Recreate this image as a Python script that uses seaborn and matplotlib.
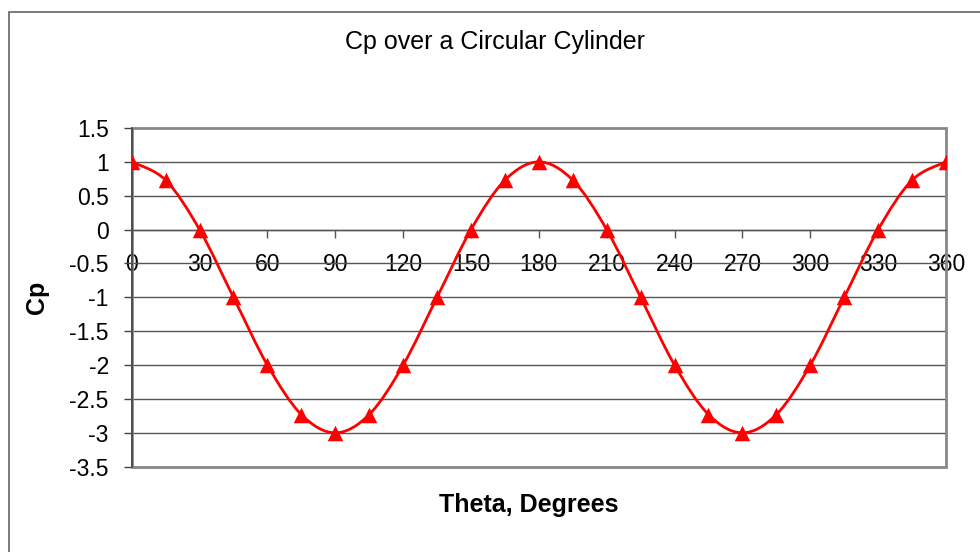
import matplotlib
matplotlib.use("Agg")
import matplotlib.pyplot as plt
import seaborn as sns
import numpy as np
import pandas as pd
from matplotlib.path import Path
from matplotlib.patches import PathPatch, Rectangle

theta = [0, 15, 30, 45, 60, 75, 90, 105, 120, 135, 150, 165, 180,
         195, 210, 225, 240, 255, 270, 285, 300, 315, 330, 345, 360]
cp = [1, 0.73, 0, -1, -2, -2.73, -3, -2.73, -2, -1, 0, 0.73, 1,
      0.73, 0, -1, -2, -2.73, -3, -2.73, -2, -1, 0, 0.73, 1]
xticks = list(range(0, 361, 30))
yticks = [1.5, 1, 0.5, 0, -0.5, -1, -1.5, -2, -2.5, -3, -3.5]
title = "Cp over a Circular Cylinder"
xlabel = "Theta, Degrees"
ylabel = "Cp"

sns.set_theme(style="white")
plt.rcParams['font.family'] = ['Liberation Sans', 'DejaVu Sans']

df = pd.DataFrame({"theta": theta, "cp": cp})

fig = plt.figure(figsize=(9.8, 5.52), dpi=100, facecolor="white")
W, H = 980, 552
ax = fig.add_axes([131.7 / W, 1 - 466.7 / H, (946 - 131.7) / W, (466.7 - 128) / H])
ax.set_facecolor("white")

# smoothed line (Catmull-Rom rendered as cubic Bezier through the data points)
P = np.column_stack([df["theta"].to_numpy(float), df["cp"].to_numpy(float)])
n = len(P)
verts = [tuple(P[0])]
codes = [Path.MOVETO]
for i in range(n - 1):
    p0 = P[i - 1] if i > 0 else P[i]
    p1 = P[i]
    p2 = P[i + 1]
    p3 = P[i + 2] if i + 2 < n else P[i + 1]
    c1 = p1 + (p2 - p0) / 6.0
    c2 = p2 - (p3 - p1) / 6.0
    verts += [tuple(c1), tuple(c2), tuple(p2)]
    codes += [Path.CURVE4] * 3
ax.add_patch(PathPatch(Path(verts, codes), facecolor="none", edgecolor="#ff0000",
                       lw=2.0, zorder=3))

sns.scatterplot(data=df, x="theta", y="cp", marker="^", s=125, color="#ff0000",
                edgecolor="#ff0000", linewidth=0, ax=ax, zorder=4, legend=False)

ax.set_xlim(0, 360)
ax.set_ylim(-3.5, 1.5)
ax.set_yticks(yticks)
ax.set_yticklabels([f"{v:g}" for v in yticks])
ax.set_xticks(xticks)
ax.set_xticklabels([str(v) for v in xticks])

for yv in yticks:
    ax.axhline(yv, color="#555555", lw=1.0, zorder=1)

for s in ["top", "right"]:
    ax.spines[s].set_visible(False)
ax.spines["left"].set_color("#444444")
ax.spines["left"].set_linewidth(1.2)
ax.spines["bottom"].set_position(("data", 0))
ax.spines["bottom"].set_color("#555555")
ax.spines["bottom"].set_linewidth(1.0)

ax.add_patch(Rectangle((0, 0), 1, 1, transform=ax.transAxes, fill=False,
                       edgecolor="#888888", lw=2.0, zorder=2, clip_on=False))

ax.tick_params(axis="y", direction="out", length=5.5, width=1, color="#444444",
               pad=11, labelsize=16.5, left=True)
ax.tick_params(axis="x", direction="out", length=5.5, width=1, color="#555555",
               pad=11, labelsize=16.5, bottom=True)
for lab in ax.get_xticklabels() + ax.get_yticklabels():
    lab.set_color("black")

ax.set_xlabel("")
ax.set_ylabel(ylabel, fontsize=18, fontweight="bold", color="black")
ax.yaxis.set_label_coords(-0.1016, 0.5)

fig.text(495 / W, 1 - 48.5 / H, title, fontsize=18, ha="center", va="baseline",
         color="black")
fig.text(528.5 / W, 1 - 512 / H, xlabel, fontsize=18, fontweight="bold",
         ha="center", va="baseline", color="black")

# outer chart border
fig.add_artist(Rectangle((8.5 / W, -0.1), 1.2, 1.1 - 12.3 / H, transform=fig.transFigure,
                         fill=False, edgecolor="#707070", lw=1.3))

fig.savefig("out.png", dpi=100, facecolor="white")
